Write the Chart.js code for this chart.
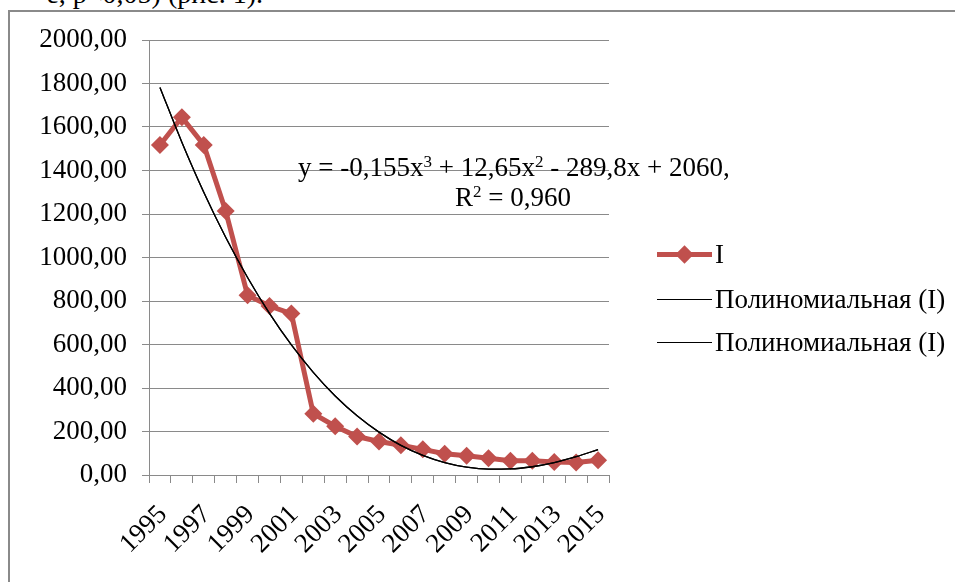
<!DOCTYPE html>
<html>
<head>
<meta charset="utf-8">
<script src="https://cdn.jsdelivr.net/npm/chart.js@4.4.0/dist/chart.umd.min.js"></script>
<style>
  body{margin:0;background:#fff;overflow:hidden;font-family:"Liberation Serif","Times New Roman","DejaVu Serif",serif;}
  #wrap{position:relative;width:955px;height:582px;overflow:hidden;}
  #frame{position:absolute;left:8px;top:10px;width:1000px;height:700px;border-left:2px solid #8a8a8a;border-top:2px solid #8a8a8a;}
  #topText{position:absolute;right:692px;top:-20px;font-size:28px;line-height:28px;white-space:nowrap;color:#000;}
  canvas{position:absolute;left:0;top:0;}
  .txt{position:absolute;font-size:27px;line-height:27px;white-space:nowrap;color:#000;}
  .txt sup{font-size:17px;vertical-align:9px;line-height:0;}
  .leg{position:absolute;left:657px;width:300px;height:27px;}
  .leg .ln{position:absolute;left:0;width:55px;top:13px;}
  .leg .lbl{position:absolute;left:58px;top:0;font-size:27px;line-height:27px;white-space:nowrap;}
</style>
</head>
<body>
<div id="wrap">
  <div id="topText">е, р&lt;0,05) (рис. 1).</div>
  <div id="frame"></div>
  <canvas id="miGrafica" width="955" height="582"></canvas>

  <div class="txt" style="left:298px;top:154px;">y = -0,155x<sup>3</sup> + 12,65x<sup>2</sup> - 289,8x + 2060,</div>
  <div class="txt" style="left:455px;top:184px;">R<sup>2</sup> = 0,960</div>

  <div class="leg" style="top:241px;">
    <div class="ln" style="height:5px;top:11px;background:#c0504d;"></div>
    <div style="position:absolute;left:21px;top:7px;width:13px;height:13px;background:#c0504d;transform:rotate(45deg);"></div>
    <div class="lbl">I</div>
  </div>
  <div class="leg" style="top:286px;">
    <div class="ln" style="height:1px;background:#000;"></div>
    <div class="lbl">Полиномиальная (I)</div>
  </div>
  <div class="leg" style="top:329px;">
    <div class="ln" style="height:1px;background:#000;"></div>
    <div class="lbl">Полиномиальная (I)</div>
  </div>
</div>

<script>
// categories
const anios=['1995','1996','1997','1998','1999','2000','2001','2002','2003','2004','2005','2006','2007','2008','2009','2010','2011','2012','2013','2014','2015'];

// series I
const valoresI=[1517,1645,1517,1214,826,777,742,282,224,177,154,137,118,98,88,77,66,65,60,58,68];

// Полиномиальная (I) trend line
const valoresTendencia=[1782,1530,1300,1093,908,743,598,472,363,272,197,136,90,57,36,27,28,38,57,84,117];

// y axis ticks
const yMin=0;
const yMax=2000;
const yPaso=200;

const gris='#8a8a8a';
const fuente={family:'"Liberation Serif","Times New Roman","DejaVu Serif",serif',size:27};

const ctx=document.getElementById('miGrafica');

new Chart(ctx,{
  type:'line',
  data:{
    labels:anios,
    datasets:[
      {
        label:'I',
        data:valoresI,
        borderColor:'#c0504d',
        backgroundColor:'#c0504d',
        borderWidth:5,
        pointStyle:'rectRot',
        pointRadius:9,
        pointBorderWidth:0,
        tension:0,
        order:2
      },
      {
        label:'Полиномиальная (I)',
        data:valoresTendencia,
        borderColor:'#000',
        borderWidth:1.3,
        pointRadius:0,
        cubicInterpolationMode:'monotone',
        order:1
      },
      {
        label:'Полиномиальная (I)',
        data:valoresTendencia,
        borderColor:'#000',
        borderWidth:1.3,
        pointRadius:0,
        cubicInterpolationMode:'monotone',
        order:0
      }
    ]
  },
  options:{
    responsive:false,
    animation:false,
    layout:{padding:{top:40,right:346,left:0,bottom:0}},
    plugins:{legend:{display:false},tooltip:{enabled:false}},
    scales:{
      x:{
        offset:true,
        grid:{offset:true,drawOnChartArea:false,color:gris,tickLength:8},
        border:{color:gris,width:1},
        ticks:{
          autoSkip:false,
          maxRotation:45,
          minRotation:45,
          padding:16,
          labelOffset:3,
          color:'#000',
          font:fuente,
          callback:(v,i)=> i%2===0 ? anios[i] : ''
        },
        afterFit:(s)=>{ s.height=107; }
      },
      y:{
        min:yMin,
        max:yMax,
        grid:{color:gris,tickLength:7},
        border:{color:gris,width:1},
        ticks:{
          stepSize:yPaso,
          padding:15,
          color:'#000',
          font:fuente,
          callback:(v)=> v.toFixed(2).replace('.',',')
        },
        afterFit:(s)=>{ s.width=149; }
      }
    }
  }
});
</script>
</body>
</html>
